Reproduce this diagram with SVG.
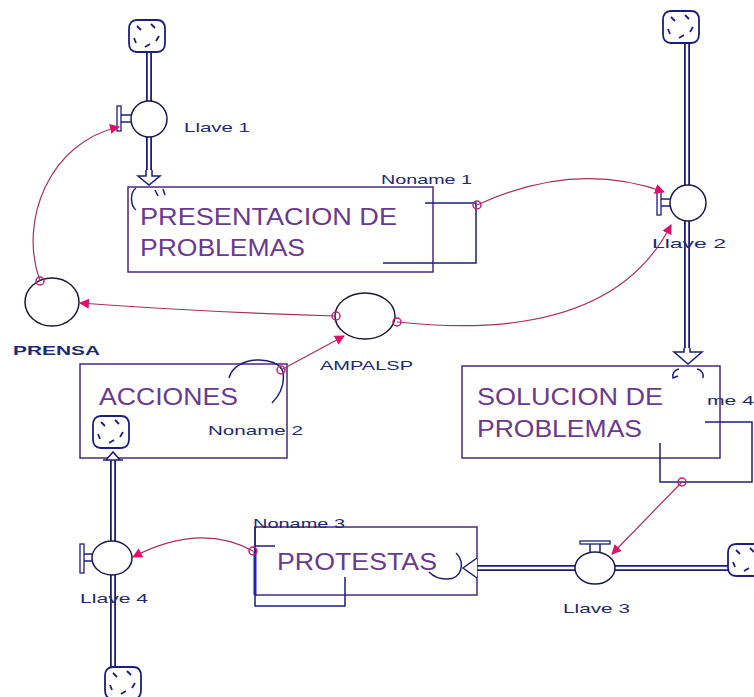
<svg xmlns="http://www.w3.org/2000/svg" width="754" height="697" viewBox="0 0 754 697">
<style>
.pipeo{stroke:#1e1e78;stroke-width:6;fill:none}
.pipei{stroke:#ffffff;stroke-width:2.4;fill:none}
.box{fill:#ffffff;stroke:#4a2a7a;stroke-width:1.5}
.stk{font-family:"Liberation Sans",Arial,sans-serif;font-size:24px;fill:#6a3a8e}
.lbl{font-family:"Liberation Sans",Arial,sans-serif;font-size:13px;fill:#1e2a6e}
.valve{fill:#ffffff;stroke:#1a1a50;stroke-width:1.5}
.aux{fill:#ffffff;stroke:#1a1a30;stroke-width:1.5}
.conn{fill:none;stroke:#a8305c;stroke-width:1.2}
.dot{fill:none;stroke:#c0207a;stroke-width:1.5}
.nav{fill:none;stroke:#1e1e78;stroke-width:1.5}
.arr{fill:#ffffff;stroke:#1e1e78;stroke-width:1.5}
</style>
<defs>
<marker id="ah" viewBox="0 0 10 10" refX="9" refY="5" markerWidth="10" markerHeight="10" markerUnits="userSpaceOnUse" orient="auto">
<path d="M0,0 L10,5 L0,10 z" fill="#e0106a"/>
</marker>
<g id="cloud">
<path d="M-10,-16 H10 Q18,-16 18,-7 V7 Q18,16 10,16 H-10 Q-18,16 -18,7 V-7 Q-18,-16 -10,-16 Z" fill="#ffffff" stroke="#1e1e78" stroke-width="1.8"/>
<path d="M-10,-10 l4,4 M4,-12 l4,4 M12,0 l-3,5 M-2,11 l5,-3 M-13,2 l2,5" stroke="#1e1e78" stroke-width="1.8" fill="none"/>
</g>
</defs>
<rect width="754" height="697" fill="#ffffff"/>

<g id="pipes">
<path class="pipeo" d="M149,50 V102 M149,136 V176"/>
<path class="pipei" d="M149,50 V102 M149,136 V176"/>
<path class="pipeo" d="M687,42 V186 M687,220 V350"/>
<path class="pipei" d="M687,42 V186 M687,220 V350"/>
<path class="pipeo" d="M729,568 H615 M575,568 H476"/>
<path class="pipei" d="M729,568 H615 M575,568 H476"/>
<path class="pipeo" d="M113,460 V541 M113,575 V668"/>
<path class="pipei" d="M113,460 V541 M113,575 V668"/>
</g>

<g id="stock-presentacion">
<rect class="box" x="128" y="187" width="305" height="85"/>
<text class="stk" x="140" y="225" textLength="257" lengthAdjust="spacingAndGlyphs">PRESENTACION DE</text>
<text class="stk" x="140" y="256" textLength="165" lengthAdjust="spacingAndGlyphs">PROBLEMAS</text>
<path class="arr" d="M146,170 V176 H138 L149,185 L160,176 H152 V170"/>
<path class="nav" d="M136,188 C130,192 130,205 136,210 M155,190 l3,6 M163,189 l2,6"/>
</g>

<g id="stock-solucion">
<rect class="box" x="462" y="366" width="258" height="92"/>
<text class="stk" x="477" y="405" textLength="186" lengthAdjust="spacingAndGlyphs">SOLUCION DE</text>
<text class="stk" x="477" y="437" textLength="165" lengthAdjust="spacingAndGlyphs">PROBLEMAS</text>
<path class="arr" d="M684,348 V352 H674 L688,364 L702,352 H690 V348"/>
<path class="nav" d="M679,369 C674,370 672,374 673,378 l5,-2 M697,369 C702,370 704,374 703,378"/>
</g>

<g id="stock-acciones">
<rect class="box" x="80" y="364" width="207" height="94"/>
<text class="stk" x="99" y="405" textLength="139" lengthAdjust="spacingAndGlyphs">ACCIONES</text>
<use href="#cloud" x="111" y="432"/>
<path class="arr" d="M103,460 H123 M106,460 L113,452 L120,460"/>
</g>

<g id="stock-protestas">
<rect class="box" x="255" y="527" width="222" height="68"/>
<text class="stk" x="277" y="570" textLength="160" lengthAdjust="spacingAndGlyphs">PROTESTAS</text>
<path class="nav" d="M456,553 C466,562 462,580 446,579 C439,579 433,576 429,572"/>
<path class="arr" d="M477,558 L463,568 L477,578"/>
</g>

<g id="cloud-1"><use href="#cloud" x="147" y="36"/></g>
<g id="cloud-2"><use href="#cloud" x="681" y="27"/></g>
<g id="cloud-3"><use href="#cloud" x="746" y="560"/></g>
<g id="cloud-5"><use href="#cloud" x="123" y="683"/></g>

<g id="valve-1">
<circle class="valve" cx="149" cy="119" r="18"/>
<rect x="117" y="106" width="4" height="25" fill="#ffffff" stroke="#1e1e78" stroke-width="1.3"/>
<path class="nav" d="M121,115 H131 M121,122 H131"/>
<text class="lbl" x="184" y="132" textLength="66" lengthAdjust="spacingAndGlyphs">Llave 1</text>
</g>

<g id="valve-2">
<circle class="valve" cx="688" cy="203" r="18"/>
<rect x="657" y="191" width="4" height="24" fill="#ffffff" stroke="#1e1e78" stroke-width="1.3"/>
<path class="nav" d="M661,199 H670 M661,206 H670"/>
<text class="lbl" x="652" y="248" textLength="74" lengthAdjust="spacingAndGlyphs">Llave 2</text>
</g>

<g id="valve-3">
<ellipse class="valve" cx="595" cy="568" rx="20" ry="16"/>
<rect x="580" y="541" width="30" height="3" fill="#ffffff" stroke="#1e1e78" stroke-width="1.3"/>
<path class="nav" d="M590,544 V553 M600,544 V553"/>
<text class="lbl" x="563" y="613" textLength="67" lengthAdjust="spacingAndGlyphs">Llave 3</text>
</g>

<g id="valve-4">
<ellipse class="valve" cx="112" cy="558" rx="20" ry="17"/>
<rect x="80" y="544" width="4" height="29" fill="#ffffff" stroke="#1e1e78" stroke-width="1.3"/>
<path class="nav" d="M84,554 H93 M84,561 H93"/>
<text class="lbl" x="80" y="603" textLength="68" lengthAdjust="spacingAndGlyphs">Llave 4</text>
</g>

<g id="aux-prensa">
<ellipse class="aux" cx="52" cy="302" rx="27" ry="24"/>
<text class="lbl" x="13" y="355" textLength="87" lengthAdjust="spacingAndGlyphs" font-weight="bold">PRENSA</text>
</g>

<g id="aux-ampalsp">
<ellipse class="aux" cx="365" cy="316" rx="30" ry="23"/>
<text class="lbl" x="320" y="370" textLength="93" lengthAdjust="spacingAndGlyphs">AMPALSP</text>
</g>

<g id="noname-1">
<path class="nav" d="M425,203 H476 V263 H383"/>
<text class="lbl" x="381" y="184" textLength="91" lengthAdjust="spacingAndGlyphs">Noname 1</text>
</g>

<g id="noname-2">
<path class="nav" d="M229,378 C235,355 278,355 283,372 C285,385 280,395 272,403"/>
<text class="lbl" x="208" y="435" textLength="95" lengthAdjust="spacingAndGlyphs">Noname 2</text>
</g>

<g id="noname-3">
<path class="nav" d="M255,527 V606 H345 V577 M255,546 H275"/>
<path d="M255,551 V595" stroke="#2020c0" stroke-width="3"/>
<text class="lbl" x="253" y="528" textLength="92" lengthAdjust="spacingAndGlyphs">Noname 3</text>
</g>

<g id="noname-4">
<path class="nav" d="M705,422 H752 V482 H660 V443"/>
<text class="lbl" x="707" y="405" textLength="47" lengthAdjust="spacingAndGlyphs">me 4</text>
</g>

<g id="connectors">
<path class="conn" d="M477,205 Q575,160 664,192" marker-end="url(#ah)"/>
<path class="conn" d="M40,281 C18,220 50,142 119,127" marker-end="url(#ah)"/>
<path class="conn" d="M397,322 Q610,345 671,225" marker-end="url(#ah)"/>
<path class="conn" d="M336,316 Q200,312 80,303" marker-end="url(#ah)"/>
<path class="conn" d="M281,370 L344,336" marker-end="url(#ah)"/>
<path class="conn" d="M253,551 Q200,522 133,557" marker-end="url(#ah)"/>
<path class="conn" d="M682,482 L612,554" marker-end="url(#ah)"/>
<circle class="dot" cx="477" cy="205" r="4"/>
<circle class="dot" cx="40" cy="281" r="4"/>
<circle class="dot" cx="397" cy="322" r="4"/>
<circle class="dot" cx="336" cy="316" r="4"/>
<circle class="dot" cx="281" cy="370" r="4"/>
<circle class="dot" cx="253" cy="551" r="4"/>
<circle class="dot" cx="682" cy="482" r="4"/>
</g>
</svg>
